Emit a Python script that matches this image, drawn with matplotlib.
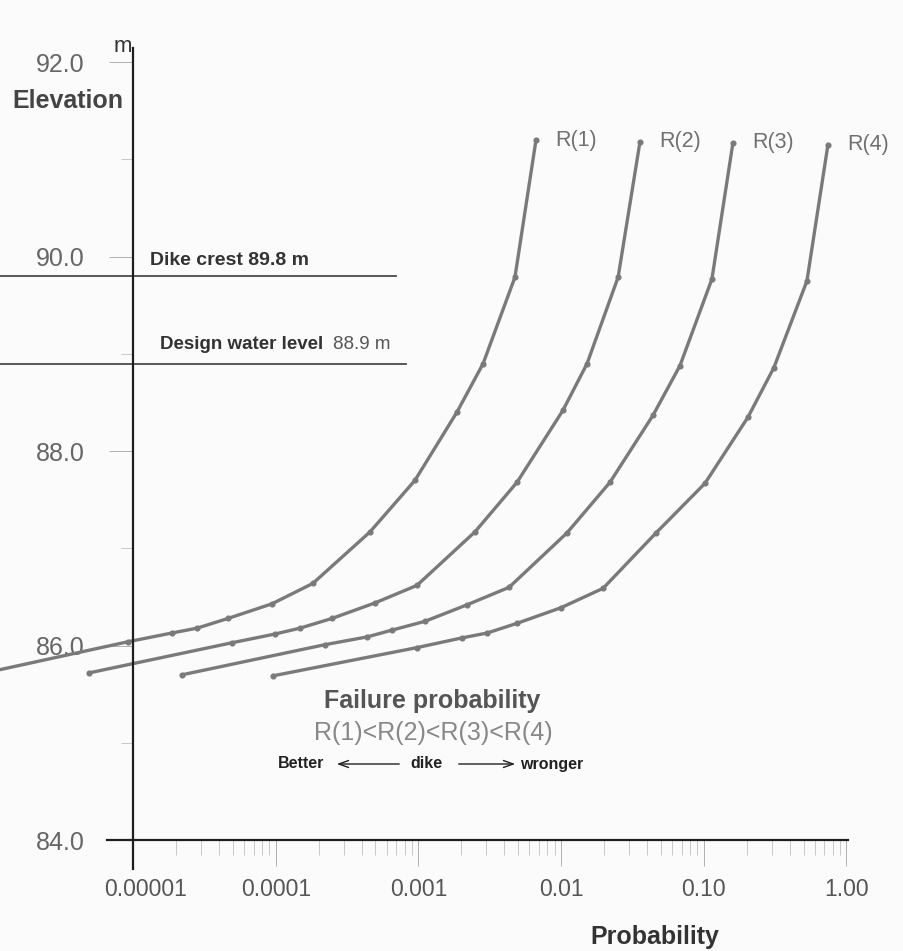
import matplotlib
matplotlib.use('Agg')
import matplotlib.pyplot as plt
from matplotlib.transforms import ScaledTranslation

plt.rcParams['font.family'] = ['Liberation Sans', 'DejaVu Sans']

# failure probability (x) and elevation in m (y)
p_r1 = [9.2e-7, 9.2e-6, 1.87e-5, 2.81e-5, 4.63e-5, 9.4e-5, 1.82e-4, 4.58e-4, 9.46e-4, 1.86e-3, 2.84e-3, 4.75e-3, 6.67e-3]
z_r1 = [85.72, 86.04, 86.13, 86.18, 86.28, 86.43, 86.64, 87.17, 87.70, 88.40, 88.90, 89.79, 91.20]

p_r2 = [4.92e-6, 4.94e-5, 9.9e-5, 1.48e-4, 2.48e-4, 4.97e-4, 9.77e-4, 2.49e-3, 4.91e-3, 1.03e-2, 1.52e-2, 2.51e-2, 3.57e-2]
z_r2 = [85.72, 86.03, 86.12, 86.18, 86.28, 86.44, 86.62, 87.17, 87.68, 88.42, 88.90, 89.79, 91.18]

p_r3 = [2.20e-5, 2.21e-4, 4.37e-4, 6.53e-4, 1.11e-3, 2.19e-3, 4.32e-3, 1.10e-2, 2.20e-2, 4.41e-2, 6.81e-2, 0.114, 0.160]
z_r3 = [85.70, 86.01, 86.09, 86.16, 86.25, 86.42, 86.60, 87.16, 87.68, 88.37, 88.88, 89.77, 91.17]

p_r4 = [9.57e-5, 9.77e-4, 2.02e-3, 3.03e-3, 4.91e-3, 9.97e-3, 1.97e-2, 4.63e-2, 0.102, 0.204, 0.310, 0.528, 0.741]
z_r4 = [85.69, 85.98, 86.08, 86.13, 86.23, 86.39, 86.59, 87.16, 87.67, 88.35, 88.86, 89.75, 91.15]

curve_names = ['R(1)', 'R(2)', 'R(3)', 'R(4)']

x_ticks = [1e-5, 1e-4, 1e-3, 1e-2, 1e-1, 1.0]
x_tick_labels = ['0.00001', '0.0001', '0.001', '0.01', '0.10', '1.00']
y_ticks = [84, 86, 88, 90, 92]
y_tick_labels = ['84.0', '86.0', '88.0', '90.0', '92.0']
y_minor = [85, 87, 89, 91]

dike_crest = 89.8
design_level = 88.9

fig = plt.figure(figsize=(9.04, 9.51), dpi=100)
fig.patch.set_facecolor('#fbfbfb')
ax = fig.add_axes([0, 0, 1, 1])
ax.patch.set_alpha(0)
ax.set_xscale('log')
ax.set_xlim(10 ** -5.932, 10 ** 0.403)
ax.set_ylim(82.86, 92.64)

# axes drawn as crossing lines
ax.spines['top'].set_visible(False)
ax.spines['right'].set_visible(False)
ax.spines['left'].set_position(('data', 1e-5))
ax.spines['left'].set_bounds(83.7, 92.15)
ax.spines['bottom'].set_position(('data', 84))
ax.spines['bottom'].set_bounds(6.6e-6, 1.03)
for s in ['left', 'bottom']:
    ax.spines[s].set_color('#1e1e1e')
    ax.spines[s].set_linewidth(1.6)

ax.set_xticks(x_ticks)
ax.set_xticklabels(x_tick_labels)
ax.set_xticks([k * 10.0 ** e for e in range(-5, 0) for k in range(2, 10)], minor=True)
ax.set_xticklabels([], minor=True)
ax.set_yticks(y_ticks)
ax.set_yticklabels(y_tick_labels)
ax.set_yticks(y_minor, minor=True)
ax.tick_params(axis='x', which='major', length=19, width=0.7, color='#b0b0b0',
               labelsize=16.5, labelcolor='#555555', pad=8)
ax.tick_params(axis='x', which='minor', length=11, width=0.6, color='#c0c0c0')
ax.tick_params(axis='y', which='major', length=17, width=0.7, color='#b0b0b0',
               labelsize=18, labelcolor='#666666', pad=18)
ax.tick_params(axis='y', which='minor', length=9, width=0.6, color='#c0c0c0')

# first label sits a little right of the vertical axis
first = ax.get_xticklabels()[0]
first.set_transform(first.get_transform() + ScaledTranslation(0.13, 0, fig.dpi_scale_trans))

# curves
line_color = '#7a7a7a'
for name, p, z in zip(curve_names, [p_r1, p_r2, p_r3, p_r4], [z_r1, z_r2, z_r3, z_r4]):
    ax.plot(p, z, color=line_color, lw=2.4, marker='o', ms=3.4,
            solid_capstyle='round')
    ax.annotate(name, xy=(p[-1], z[-1]), xytext=(14, 0), textcoords='offset points',
                ha='left', va='center', fontsize=15.5, color='#707070')

# reference levels
ax.plot([ax.get_xlim()[0], 6.97e-4], [dike_crest, dike_crest], color='#4a4a4a', lw=1.3)
ax.plot([ax.get_xlim()[0], 8.18e-4], [design_level, design_level], color='#4a4a4a', lw=1.3)
ax.text(1.315e-5, 89.96, 'Dike crest 89.8 m', fontsize=14, fontweight='bold',
        color='#333333', ha='left', va='center')
t = ax.text(1.545e-5, 89.10, 'Design water level', fontsize=13.5, fontweight='bold',
            color='#333333', ha='left', va='center')
ax.annotate('88.9 m', xy=(1, 0.5), xycoords=t, xytext=(7, 0), textcoords='offset points',
            ha='left', va='center', fontsize=13.5, color='#555555')

# labels
fig.text(12 / 904, 1 - 101 / 951, 'Elevation', fontsize=18, fontweight='bold',
         color='#444444', ha='left', va='center')
fig.text(123 / 904, 1 - 47 / 951, 'm', fontsize=16, color='#333333', ha='center', va='center')
fig.text(655 / 904, 1 - 937 / 951, 'Probability', fontsize=18, fontweight='bold',
         color='#333333', ha='center', va='center')
fig.text(432 / 904, 1 - 701 / 951, 'Failure probability', fontsize=18, fontweight='bold',
         color='#555555', ha='center', va='center')
fig.text(433 / 904, 1 - 733 / 951, 'R(1)<R(2)<R(3)<R(4)', fontsize=18,
         color='#888888', ha='center', va='center')

yy = 1 - 764 / 951
fig.text(278 / 904, yy, 'Better', fontsize=11.5, fontweight='bold', color='#222222',
         ha='left', va='center')
fig.text(426 / 904, yy, 'dike', fontsize=11.5, fontweight='bold', color='#222222',
         ha='center', va='center')
fig.text(520 / 904, yy, 'wronger', fontsize=11.5, fontweight='bold', color='#222222',
         ha='left', va='center')
arrow = dict(arrowstyle='->,head_length=0.7,head_width=0.25', color='#222222', lw=1.0)
ax.annotate('', xy=(334 / 904, yy), xytext=(402 / 904, yy),
            xycoords='figure fraction', textcoords='figure fraction', arrowprops=arrow)
ax.annotate('', xy=(518 / 904, yy), xytext=(456 / 904, yy),
            xycoords='figure fraction', textcoords='figure fraction', arrowprops=arrow)

fig.savefig('out.png', dpi=100, facecolor=fig.get_facecolor())
